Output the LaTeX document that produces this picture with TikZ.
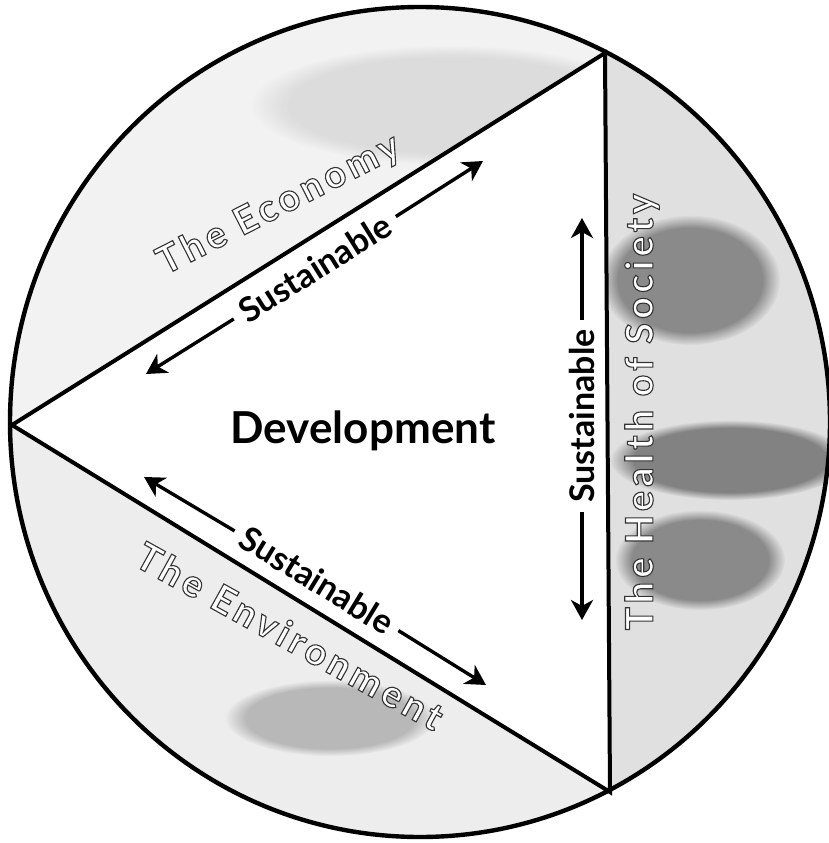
\documentclass[tikz,border=0pt]{standalone}
\usepackage{fontspec}
\setmainfont{Lato}
\newfontfamily\outfont[LetterSpace=11]{Lato}
\usetikzlibrary{arrows.meta,fadings}
\newcommand{\hollowtext}[1]{{\color{black!80}\special{pdf:literal direct 2 Tr 1.1 w 1 g}#1\special{pdf:literal direct 0 Tr}}}
\tikzset{
  rim/.style={line width=4.4pt},
  tri/.style={line width=4pt, line join=miter},
  twoway/.style={line width=3.4pt, -{Stealth[length=20pt,width=22pt,inset=6pt]}},
  sus/.style={font=\bfseries\fontsize{34}{34}\selectfont, inner xsep=9pt, inner ysep=2pt},
  dev/.style={font=\bfseries\fontsize{44}{44}\selectfont, inner sep=0pt},
  hollow/.style={font=\outfont\bfseries\fontsize{38}{38}\selectfont, inner sep=0pt},
  blob/.style={fill=black, path fading=circle with fuzzy edge 20 percent},
}
\begin{document}
\begin{tikzpicture}[x=1pt,y=-1pt]
\useasboundingbox (0,0) rectangle (828,843);
\fill[white] (0,0) rectangle (828,843);
\coordinate (C) at (420,422);
\coordinate (T) at (605,53);
\coordinate (L) at (12,425);
\coordinate (B) at (610,792);
\begin{scope}
  \clip (C) ellipse [x radius=410pt, y radius=415pt];
  \fill[black!5] (L) -- (T) -- (605,0) -- (0,0) -- (0,425) -- cycle;
  \fill[black!7] (L) -- (B) -- (610,843) -- (0,843) -- (0,425) -- cycle;
  \fill[black!12] (T) -- (B) -- (610,843) -- (828,843) -- (828,0) -- (605,0) -- cycle;
  \begin{scope}
    \clip (L) -- (T) -- (605,0) -- (0,0) -- (0,425) -- cycle;
    \fill[blob, opacity=0.09] (450,105) ellipse [x radius=200pt, y radius=60pt];
  \end{scope}
  \fill[blob, opacity=0.22] (330,718) ellipse [x radius=105pt, y radius=38pt];
  \begin{scope}
    \clip (T) -- (B) -- (610,843) -- (828,843) -- (828,0) -- (605,0) -- cycle;
    \fill[blob, opacity=0.38] (690,280) ellipse [x radius=90pt, y radius=65pt];
    \fill[blob, opacity=0.42] (730,460) ellipse [x radius=120pt, y radius=40pt];
    \fill[blob, opacity=0.38] (700,560) ellipse [x radius=85pt, y radius=50pt];
  \end{scope}
\end{scope}
\draw[tri] (L) -- (T) -- (B) -- cycle;
\draw[rim] (C) ellipse [x radius=410pt, y radius=415pt];

\node[hollow, rotate=27] (eco) at (279,205) {\hollowtext{The Economy}};
\node[hollow, rotate=-29] (env) at (290,636) {\hollowtext{The Environment}};
\node[hollow, rotate=90] (soc) at (642,412) {\hollowtext{The Health of Society}};

\node[dev, anchor=base] (dev) at (363,443) {Development};

\node[sus, rotate=32.1] (s1) at (315,268) {Sustainable};
\coordinate (a1) at (146,374);
\coordinate (b1) at (483,161);
\draw[twoway] (s1) -- (a1);
\draw[twoway] (s1) -- (b1);

\node[sus, rotate=-31.5] (s2) at (317,580) {Sustainable};
\coordinate (a2) at (144,477);
\coordinate (b2) at (486,685);
\draw[twoway] (s2) -- (a2);
\draw[twoway] (s2) -- (b2);

\node[sus, rotate=90] (s3) at (582,416) {Sustainable};
\coordinate (a3) at (582,218);
\coordinate (b3) at (582,620);
\draw[twoway] (s3) -- (a3);
\draw[twoway] (s3) -- (b3);
\end{tikzpicture}
\end{document}
